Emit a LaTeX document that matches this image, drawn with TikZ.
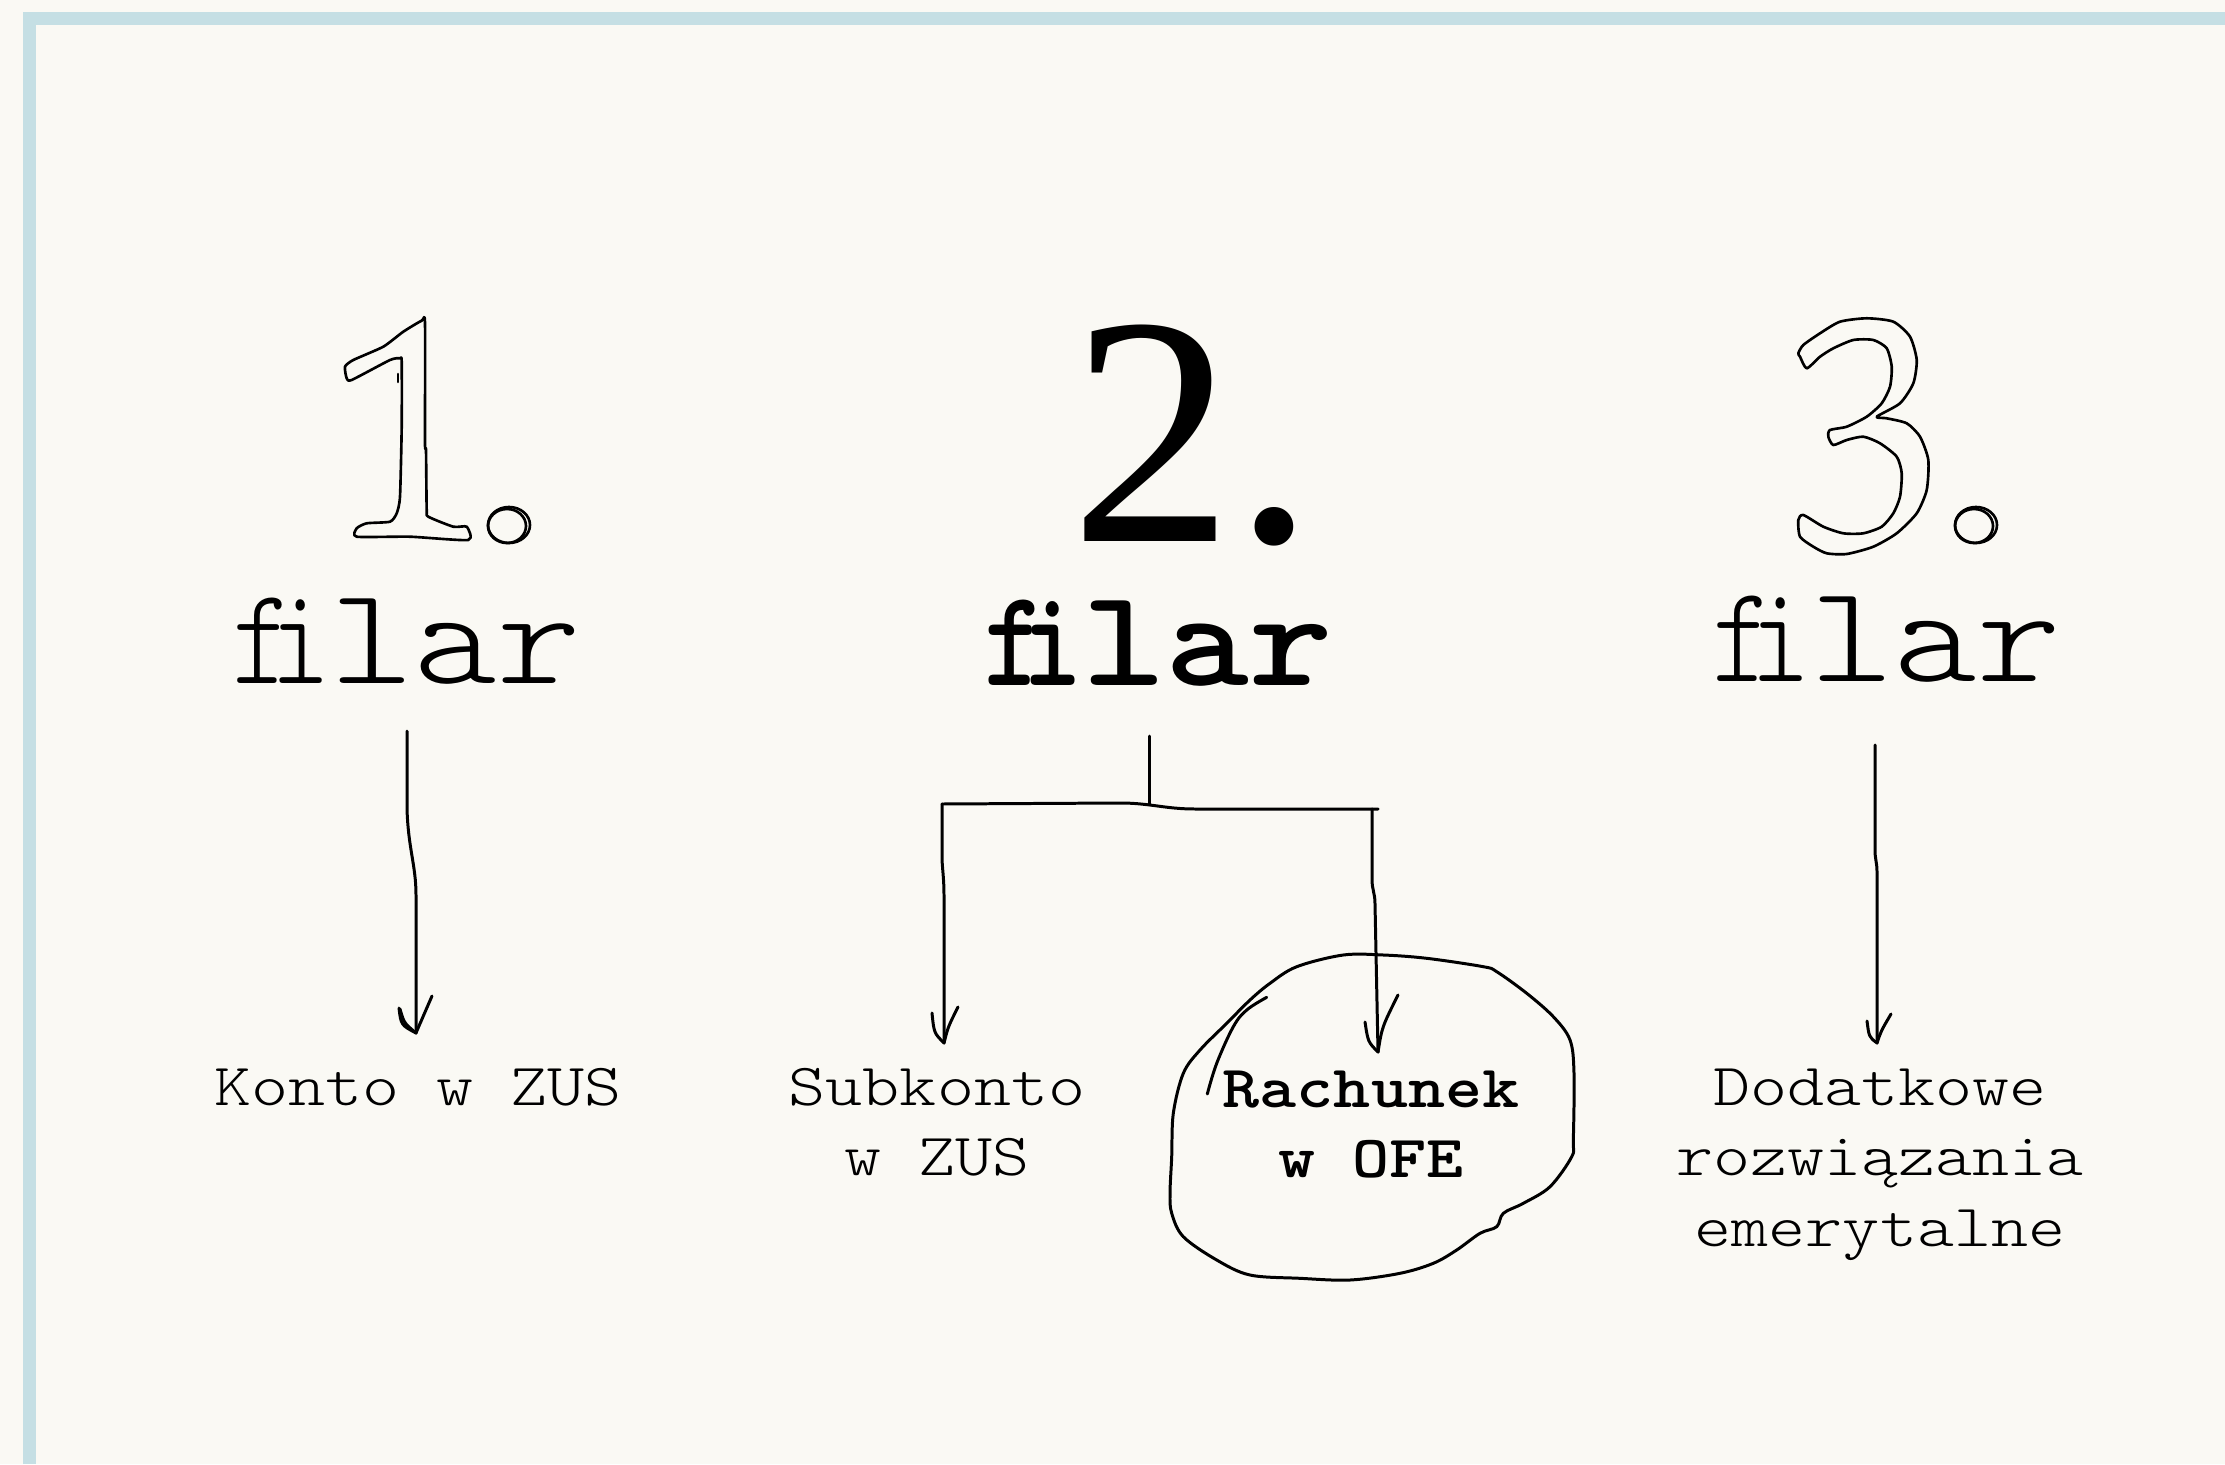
\documentclass[tikz,border=0pt]{standalone}
\usepackage{fontspec}
\usepackage{graphicx}
\newfontfamily\bigserif{Liberation Serif}
\usetikzlibrary{calc}
\definecolor{bgcol}{HTML}{FAF9F4}
\definecolor{framecol}{HTML}{C5DFE4}
\newcommand\fiword{\scalebox{1.15}[1]{\scalebox{0.72}[1]{f\kern-0.2em i}lar}}
\begin{document}
\begin{tikzpicture}[x=0.01cm,y=-0.01cm,
  sk/.style={draw=black, line width=0.85pt, line cap=round, line join=round},
  digit/.style={draw=black, line width=0.75pt, line cap=round, line join=round},
  bigword/.style={font=\ttfamily\fontseries{l}\fontsize{39.4}{40}\selectfont, inner sep=0pt, anchor=base},
  bigbold/.style={font=\ttfamily\bfseries\fontsize{39.4}{40}\selectfont, inner sep=0pt, anchor=base},
  lab/.style={font=\ttfamily\fontseries{l}\fontsize{17}{20.1}\selectfont, inner sep=0pt, anchor=base},
  labbold/.style={font=\ttfamily\bfseries\fontsize{17}{20.1}\selectfont, inner sep=0pt, anchor=base}]
\useasboundingbox (0,0) rectangle (2225,1464);
\fill[bgcol] (0,0) rectangle (2225,1464);
% frame (cut by the page at right and bottom)
\fill[framecol] (23,12) rectangle (2225,25);
\fill[framecol] (23,12) rectangle (36,1464);

% ---- 1. (outlined, hand drawn)
\draw[digit] plot[smooth cycle, tension=0.35] coordinates {
 (421.7,320.7) (403.3,331.7) (383.3,346.7) (353.3,360) (345,366.7) (346.7,378.3)
 (351.7,380) (390,360) (400,358.3) (401.7,361.7) (401.7,426.7) (400,496.7)
 (396.7,513.3) (390,521.7) (366.7,523.3) (356.7,528.3) (356.7,536.7) (410,536.7)
 (468.3,540) (466.7,526.7) (453.3,526.7) (428.3,516.7) (426.7,510) (426,450)
 (425,443.3) (425,323.3)};
\draw[digit] (398,374) -- (398,382);
\draw[digit] (509,525) ellipse [x radius=21, y radius=18];
\draw[digit] (507,526) ellipse [x radius=19, y radius=17];

% ---- 2. (solid serif)
\node[font=\bigserif\fontsize{93}{93}\selectfont, inner sep=0pt, anchor=base, text depth=0pt] (n2) at (1193,541) {2.};

% ---- 3. (outlined, hand drawn)
\draw[digit] plot[smooth cycle, tension=0.4] coordinates {
 (1800,356.7) (1806.7,368.3) (1820,356.7) (1833.3,348.3) (1853.3,340) (1873.3,340)
 (1886.7,348.3) (1891.7,366.7) (1890,386.7) (1881.7,403.3) (1866.7,416.7)
 (1846.7,426.7) (1830,430) (1828.3,436.7) (1833.3,445) (1846.7,440) (1863.3,436.7)
 (1880,443.3) (1896.7,456.7) (1901.7,473.3) (1900,496.7) (1893.3,513.3)
 (1881.7,526.7) (1863.3,533.3) (1843.3,533.3) (1823.3,526.7) (1803.3,515)
 (1798.3,520) (1800,536.7) (1813.3,546.7) (1826.7,553.3) (1846.7,554)
 (1873.3,546.7) (1896.7,533.3) (1916.7,513.3) (1926.7,490) (1928.3,460)
 (1920,436.7) (1906.7,423.3) (1886.7,418.3) (1876.7,416.7) (1900,403.3)
 (1913.3,383.3) (1916.7,360) (1910,336.7) (1893.3,321.7) (1866.7,318.3)
 (1840,321.7) (1820,333.3) (1803.3,345) (1798.3,353.3)};
\draw[digit] (1976,525) ellipse [x radius=21, y radius=18];
\draw[digit] (1974,526) ellipse [x radius=19, y radius=17];

% ---- filar words
\node[bigword] (f1) at (407,683) {\fiword};
\node[bigbold] (f2) at (1159,685) {\fiword};
\node[bigword] (f3) at (1887,681) {\fiword};

% ---- labels
\node[lab] (l1) at (418,1105) {\scalebox{1.18}[1]{Konto w ZUS}};
\node[lab] (l2) at (937,1105) {\scalebox{1.18}[1]{\begin{tabular}[t]{@{}c@{}}Subkonto\\w ZUS\end{tabular}}};
\node[labbold] (l3) at (1371,1107) {\scalebox{1.18}[1]{\begin{tabular}[t]{@{}c@{}}Rachunek\\w OFE\end{tabular}}};
\node[lab] (l4) at (1880,1105) {\scalebox{1.18}[1]{\begin{tabular}[t]{@{}c@{}}Dodatkowe\\rozwiązania\\emerytalne\end{tabular}}};

% ---- connector end points
\coordinate (a1s) at (407,731);
\coordinate (a1t) at (416,1033);
\coordinate (b0) at (1149,736);
\coordinate (bj) at (1149,804);
\coordinate (bl) at (942,804);
\coordinate (br) at (1378,809);
\coordinate (blt) at (944,1043);
\coordinate (brs) at (1372,809);
\coordinate (brt) at (1378,1052);
\coordinate (a3s) at (1875,745);
\coordinate (a3t) at (1877,1043);

% arrow 1
\draw[sk] (a1s) -- ++(0,77) .. controls +(1,40) and +(0,-30) .. ++(9,87) -- (a1t);
\draw[sk] ($(a1t)+(-17,-25)$) .. controls ($(a1t)+(-15,-8)$) .. (a1t)
          .. controls ($(a1t)+(6,-14)$) .. ($(a1t)+(16,-37)$);
\draw[sk] ($(a1t)+(-16,-24)$) .. controls ($(a1t)+(-12,-10)$) .. (a1t);

% branch of 2
\draw[sk] (b0) -- (bj);
\draw[sk] (bl) -- (1120,803) .. controls (1150,803) and (1165,809) .. (1195,809) -- (br);
\draw[sk] (bl) -- ++(0,56) .. controls +(1,15) and +(0,-15) .. ++(2,36) -- (blt);
\draw[sk] ($(blt)+(-12,-30)$) .. controls ($(blt)+(-10,-10)$) .. (blt)
          .. controls ($(blt)+(4,-16)$) .. ($(blt)+(14,-36)$);
\draw[sk] (brs) -- ++(0,70) .. controls +(0,12) and +(0,-12) .. ++(3,25) -- (brt);
\draw[sk] ($(brt)+(-13,-30)$) .. controls ($(brt)+(-10,-10)$) .. (brt)
          .. controls ($(brt)+(4,-25)$) .. ($(brt)+(20,-57)$);

% arrow 3
\draw[sk] (a3s) -- ++(0,105) .. controls +(0,10) and +(0,-10) .. ++(2,22) -- (a3t);
\draw[sk] ($(a3t)+(-10,-22)$) .. controls ($(a3t)+(-8,-6)$) .. (a3t)
          .. controls ($(a3t)+(4,-12)$) .. ($(a3t)+(14,-29)$);

% hand-drawn loop round "Rachunek w OFE"
\draw[sk] plot[smooth cycle, tension=0.55] coordinates {
 (1343.3,955) (1383.3,955) (1426.7,958.3) (1483.3,966.7) (1496.7,971.7)
 (1526.7,993.3) (1553.3,1016.7) (1570,1040) (1574,1073.3) (1573.3,1140)
 (1571.7,1156.7) (1550,1186.7) (1523.3,1203.3) (1503.3,1213.3) (1496.7,1226.7)
 (1480,1233.3) (1456.7,1250) (1433.3,1263.3) (1400,1273.3) (1350,1280)
 (1300,1278.3) (1250,1275) (1216.7,1260) (1183.3,1236.7) (1171.7,1213.3)
 (1170,1193.3) (1171.7,1156.7) (1173.3,1113.3) (1183.3,1073.3) (1200,1050)
 (1226.7,1023.3) (1250,1000) (1270,983.3) (1296.7,966.7)};
\draw[sk] plot[smooth, tension=0.6] coordinates {
 (1207.3,1094) (1216.7,1063.3) (1233.3,1026.7) (1246.7,1010) (1266.7,997.3)};
\end{tikzpicture}
\end{document}
